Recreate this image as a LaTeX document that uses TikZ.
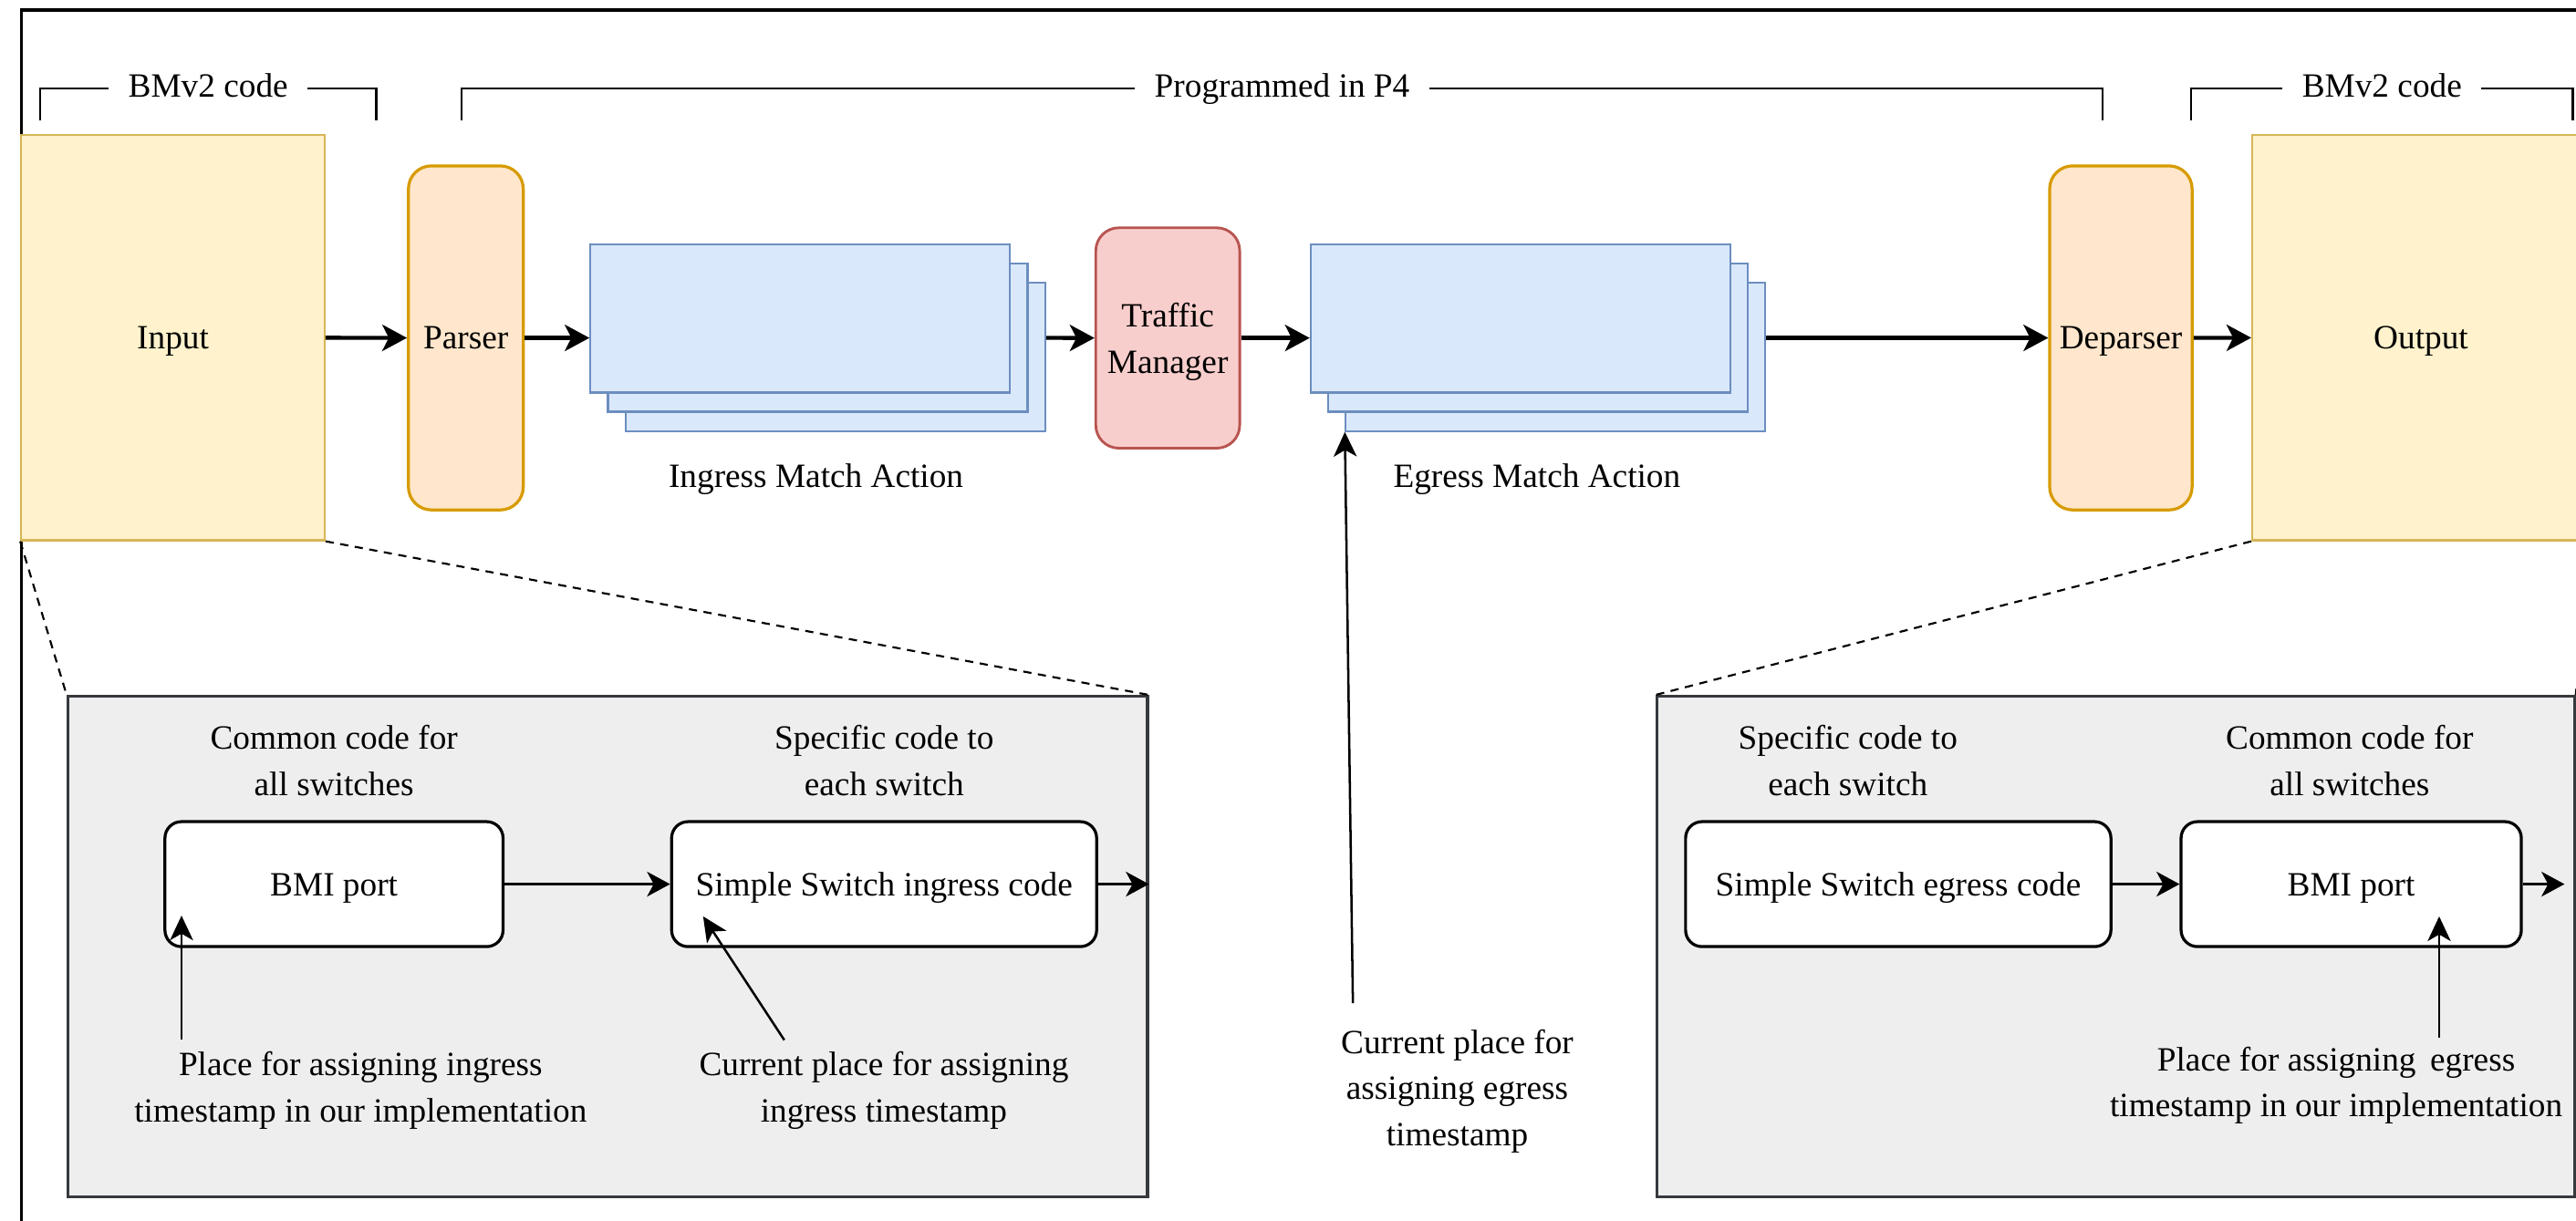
\documentclass[tikz,border=0pt]{standalone}
\usepackage{fontspec}
\setmainfont{Liberation Serif}
\usetikzlibrary{arrows.meta}

\definecolor{ylwfill}{HTML}{FFF2CC}
\definecolor{ylwdraw}{HTML}{D6B656}
\definecolor{orgfill}{HTML}{FFE6CC}
\definecolor{orgdraw}{HTML}{D79B00}
\definecolor{bluefill}{HTML}{DAE8FC}
\definecolor{bluedraw}{HTML}{6C8EBF}
\definecolor{redfill}{HTML}{F8CECC}
\definecolor{reddraw}{HTML}{B85450}
\definecolor{gryfill}{HTML}{EEEEEE}
\definecolor{grydraw}{HTML}{36393D}

\begin{document}
\begin{tikzpicture}[x=1pt,y=-1pt,
  txt/.style={font=\fontsize{20.7}{28}\selectfont, align=center, inner sep=0pt},
  lowtxt/.style={text height=18.3pt, text depth=4.5pt},
  ioblock/.style={txt, lowtxt, draw=ylwdraw, fill=ylwfill, line width=1.2pt},
  parsblock/.style={txt, lowtxt, draw=orgdraw, fill=orgfill, line width=1.8pt, rounded corners=14pt},
  tmblock/.style={txt, draw=reddraw, fill=redfill, line width=1.6pt, rounded corners=14pt},
  mablock/.style={draw=bluedraw, fill=bluefill, line width=1.2pt,
                  minimum width=255.4pt, minimum height=90.4pt},
  graypanel/.style={draw=grydraw, fill=gryfill, line width=1.7pt},
  codebox/.style={txt, lowtxt, draw=black, fill=white, line width=1.8pt, rounded corners=10pt,
                  minimum height=76.1pt},
  bracket/.style={line width=1.4pt},
  bracketlbl/.style={txt, fill=white, inner xsep=12pt, inner ysep=2pt, anchor=base},
  mainarrow/.style={line width=2.4pt, -{Stealth[length=15pt,width=16pt,inset=4pt]}},
  innerarrow/.style={line width=2pt, -{Stealth[length=14pt,width=15pt,inset=4pt]}},
  notearrow/.style={line width=1.4pt, -{Stealth[length=15pt,width=14pt,inset=4pt]}},
  zoomline/.style={line width=1.2pt, dash pattern=on 5pt off 4pt}
]
\useasboundingbox (0,0) rectangle (1568,743);
\clip (0,0) rectangle (1568,743);

% outer frame
\draw[line width=1.7pt] (13.3,760) -- (13.3,6.1) -- (1600,6.1);

% scope brackets
\draw[bracket] (24.3,73.5) -- (24.3,53.8) -- (229,53.8) -- (229,73.5);
\node[bracketlbl] (bl1) at (126.7,59.3) {BMv2 code};
\draw[bracket] (281,73.5) -- (281,53.8) -- (1279.7,53.8) -- (1279.7,73.5);
\node[bracketlbl] (bl2) at (780.4,59.3) {Programmed in P4};
\draw[bracket] (1333.8,73.5) -- (1333.8,53.8) -- (1566,53.8) -- (1566,73.5);
\node[bracketlbl] (bl3) at (1449.9,59.3) {BMv2 code};

% pipeline stages
\node[ioblock, minimum width=184.7pt, minimum height=246.7pt] (in) at (105.25,205.65) {Input};
\node[parsblock, minimum width=69.9pt, minimum height=209.5pt] (par) at (283.55,205.75) {Parser};

\node[mablock] (ing3) at (508.5,217.2) {};
\node[mablock] (ing2) at (497.8,205.5) {};
\node[mablock] (ing1) at (487.1,193.8) {};
\node[txt, lowtxt] (inglbl) at (496.7,289.7) {Ingress Match Action};

\node[tmblock, minimum width=87.6pt, minimum height=134.2pt] (tm) at (710.8,205.8) {\rule{0pt}{19.5pt}Traffic\\Manager};

\node[mablock] (eg3) at (946.9,217.2) {};
\node[mablock] (eg2) at (936.2,205.5) {};
\node[mablock] (eg1) at (925.5,193.8) {};
\node[txt, lowtxt] (eglbl) at (935.5,289.7) {Egress Match Action};

\node[parsblock, minimum width=86.7pt, minimum height=209.5pt] (dep) at (1290.95,205.75) {Deparser};
\node[ioblock, minimum width=205.4pt, minimum height=246.7pt] (out) at (1473.6,205.65) {Output};

% pipeline flow
\draw[mainarrow] (in.east) -- (par.west);
\draw[mainarrow] (par.east) -- (par.east -| ing1.west);
\draw[mainarrow] (par.east -| ing3.east) -- (tm.west);
\draw[mainarrow] (tm.east) -- (tm.east -| eg1.west);
\draw[mainarrow] (par.east -| eg3.east) -- (dep.west);
\draw[mainarrow] (dep.east) -- (out.west);

% ingress detail panel
\node[graypanel, minimum width=657.1pt, minimum height=305pt] (lg) at (369.95,576.5) {};
\draw[zoomline] (in.south west) -- (lg.north west);
\draw[zoomline] (in.south east) -- (lg.north east);

\node[txt] (lcom) at (203.3,463) {Common code for\\all switches};
\node[txt] (lspec) at (538.2,463) {Specific code to\\each switch};
\node[codebox, minimum width=205.8pt] (lbmi) at (203.3,538.35) {BMI port};
\node[codebox, minimum width=258.7pt] (lss) at (538.15,538.35) {Simple Switch ingress code};
\draw[innerarrow] (lbmi.east) -- (lss.west);
\draw[innerarrow] (lss.east) -- (lss.east -| lg.east);

\node[txt] (lnote1) at (219.5,664) {Place for assigning ingress\\timestamp in our implementation};
\node[txt] (lnote2) at (538,664) {Current place for assigning\\ingress timestamp};
\coordinate (lt1) at (110.5,633);
\coordinate (lh1) at (110.5,557.5);
\coordinate (lt2) at (477.4,633.3);
\coordinate (lh2) at (428,558);
\draw[notearrow] (lt1) -- (lh1);
\draw[notearrow] (lt2) -- (lh2);

% egress timestamp note
\node[txt] (mnote) at (887,664.5) {Current place for\\assigning egress\\timestamp};
\coordinate (mt) at (823.5,610.8);
\draw[notearrow] (mt) -- (eg3.south west);

% egress detail panel
\node[graypanel, minimum width=558.5pt, minimum height=305pt] (rg) at (1287.75,576.5) {};
\draw[zoomline] (out.south west) -- (rg.north west);
\draw[zoomline] (out.south east) -- (rg.north east);

\node[txt] (rspec) at (1124.8,463) {Specific code to\\each switch};
\node[txt] (rcom) at (1430.2,463) {Common code for\\all switches};
\node[codebox, minimum width=258.9pt] (rss) at (1155.45,538.35) {Simple Switch egress code};
\node[codebox, minimum width=207.1pt] (rbmi) at (1431.15,538.35) {BMI port};
\coordinate (rend) at (1561,538.35);
\draw[innerarrow] (rss.east) -- (rbmi.west);
\draw[innerarrow] (rbmi.east) -- (rend);

\node[txt] (rnote) at (1422,661) {Place for assigning \,egress\\timestamp in our implementation};
\coordinate (rt) at (1484.7,632);
\coordinate (rh) at (1484.7,558);
\draw[notearrow] (rt) -- (rh);
\end{tikzpicture}
\end{document}
